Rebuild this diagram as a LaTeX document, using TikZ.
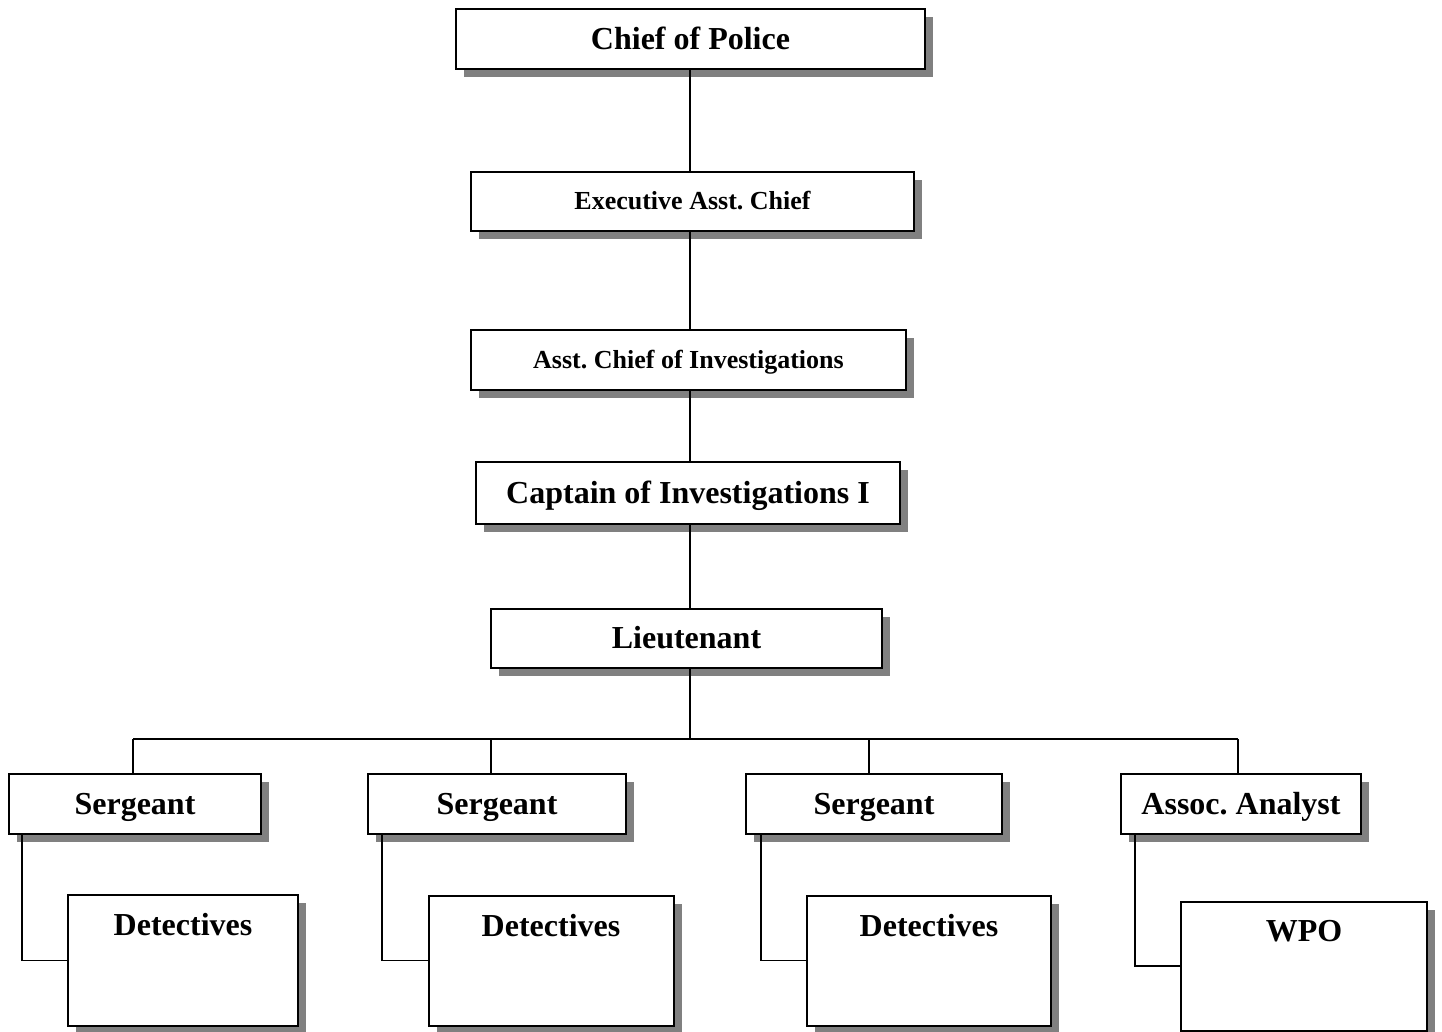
\documentclass[tikz,border=0pt]{standalone}
\usepackage{fontspec}
\setmainfont{Liberation Serif}
\frenchspacing
\usetikzlibrary{shadows}
\newcommand{\bigfont}{\fontsize{32}{38}\selectfont\bfseries}
\newcommand{\midfont}{\fontsize{26}{31}\selectfont\bfseries}
\tikzset{
  rank/.style={draw,line width=2pt,fill=white,inner sep=0pt,font=\bigfont,
    text height=21pt,text depth=0pt,
    drop shadow={shadow xshift=8pt,shadow yshift=-8pt,fill=black!50,opacity=1}},
  midrank/.style={font=\midfont,text height=17pt},
  wire/.style={line width=1.8pt}
}
\newcommand{\rankbox}[7][]{\node[rank,minimum width=#5pt,minimum height=#6pt,#1] (#2) at (#3,#4) {#7};}
\newcommand{\squadbox}[6]{\node[rank,minimum width=#4pt,minimum height=#5pt,
  label={[font=\bigfont,anchor=center,yshift=-31pt]north:#6}] (#1) at (#2,#3) {};}

\begin{document}
\begin{tikzpicture}[x=1pt,y=-1pt]
\useasboundingbox[fill=white] (0,0) rectangle (1442,1032);
\rankbox{chief}{690.5}{39}{469}{60}{Chief of Police}
\rankbox[midrank]{exec}{692.5}{201.5}{443}{59}{Executive Asst. Chief}
\rankbox[midrank]{asst}{688.5}{360}{435}{60}{Asst. Chief of Investigations}
\rankbox{capt}{688}{493}{424}{62}{Captain of Investigations I}
\rankbox{lieut}{686.5}{638}{391}{59}{Lieutenant}
\rankbox{sgt1}{135}{804}{252}{60}{Sergeant}
\rankbox{sgt2}{497}{804}{258}{60}{Sergeant}
\rankbox{sgt3}{874}{804}{256}{60}{Sergeant}
\rankbox{analyst}{1241}{804}{240}{60}{Assoc. Analyst}
\squadbox{det1}{183}{960.5}{230}{131}{Detectives}
\squadbox{det2}{551}{960.5}{245}{130}{Detectives}
\squadbox{det3}{929}{960.5}{244}{130}{Detectives}
\squadbox{wpo}{1304}{966}{246}{129}{WPO}
\coordinate (bus) at (690,739);
\coordinate (tap1) at (133,739);
\coordinate (tap2) at (491,739);
\coordinate (tap3) at (869,739);
\coordinate (tap4) at (1238,739);
\draw[wire] (bus |- chief.south) -- (bus |- exec.north);
\draw[wire] (bus |- exec.south) -- (bus |- asst.north);
\draw[wire] (bus |- asst.south) -- (bus |- capt.north);
\draw[wire] (bus |- capt.south) -- (bus |- lieut.north);
\draw[wire] (bus |- lieut.south) -- (bus);
\draw[wire] (tap1) -- (tap4);
\draw[wire] (tap1) -- (tap1 |- sgt1.north);
\draw[wire] (tap2) -- (tap2 |- sgt2.north);
\draw[wire] (tap3) -- (tap3 |- sgt3.north);
\draw[wire] (tap4) -- (tap4 |- analyst.north);
\draw[wire] ([xshift=14pt]sgt1.south west) |- (det1.west);
\draw[wire] ([xshift=15pt]sgt2.south west) |- (det2.west);
\draw[wire] ([xshift=16pt]sgt3.south west) |- (det3.west);
\draw[wire] ([xshift=15pt]analyst.south west) |- (wpo.west);
\end{tikzpicture}
\end{document}
